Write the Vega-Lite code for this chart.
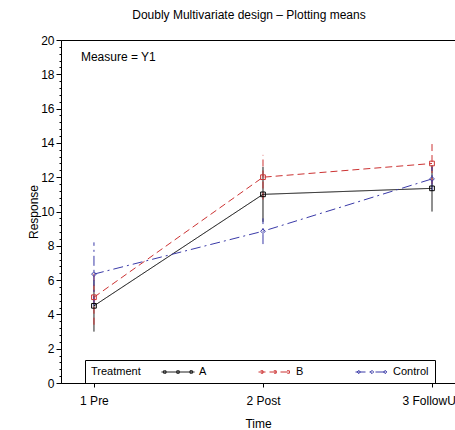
{
  "$schema": "https://vega.github.io/schema/vega-lite/v6.json",
  "width": 394,
  "height": 343,
  "autosize": {"type": "none"},
  "padding": {"left": 61, "top": 40, "right": 0, "bottom": 47},
  "background": "white",
  "title": {
    "text": "Doubly Multivariate design – Plotting means",
    "anchor": "middle",
    "frame": "group",
    "offset": 12,
    "dx": -9,
    "font": "Liberation Sans Narrow, Arial Narrow, Liberation Sans, sans-serif",
    "fontSize": 12,
    "fontWeight": "normal",
    "color": "black"
  },
  "config": {
    "view": {"stroke": "black", "strokeWidth": 1},
    "axis": {
      "grid": false,
      "domainColor": "black",
      "tickColor": "black",
      "labelColor": "black",
      "titleColor": "black",
      "labelFont": "Liberation Sans Narrow, Arial Narrow, Liberation Sans, sans-serif",
      "titleFont": "Liberation Sans Narrow, Arial Narrow, Liberation Sans, sans-serif",
      "labelFontSize": 12,
      "titleFontSize": 12,
      "titleFontWeight": "normal"
    },
    "legend": {
      "labelFont": "Liberation Sans Narrow, Arial Narrow, Liberation Sans, sans-serif",
      "titleFont": "Liberation Sans Narrow, Arial Narrow, Liberation Sans, sans-serif"
    }
  },
  "data": {
    "values": [
      {"Treatment": "A", "Time": 1, "Mean": 4.5, "Lower": 3.0, "Upper": 6.0},
      {"Treatment": "A", "Time": 2, "Mean": 11.0, "Lower": 9.4, "Upper": 12.6},
      {"Treatment": "A", "Time": 3, "Mean": 11.35, "Lower": 10.0, "Upper": 12.7},
      {"Treatment": "B", "Time": 1, "Mean": 5.0, "Lower": 3.4, "Upper": 6.6},
      {"Treatment": "B", "Time": 2, "Mean": 12.0, "Lower": 10.7, "Upper": 13.3},
      {"Treatment": "B", "Time": 3, "Mean": 12.8, "Lower": 11.6, "Upper": 14.0},
      {"Treatment": "Control", "Time": 1, "Mean": 6.35, "Lower": 4.5, "Upper": 8.2},
      {"Treatment": "Control", "Time": 2, "Mean": 8.85, "Lower": 8.1, "Upper": 9.6},
      {"Treatment": "Control", "Time": 3, "Mean": 11.9, "Lower": 11.2, "Upper": 12.6}
    ]
  },
  "resolve": {"axis": {"y": "independent"}},
  "layer": [
    {
      "mark": {"type": "rule", "strokeWidth": 1},
      "encoding": {
        "x": {
          "field": "Time", "type": "quantitative",
          "scale": {"domain": [0.805, 3.136], "nice": false, "zero": false},
          "axis": {
            "values": [1, 2, 3],
            "labelExpr": "datum.value == 1 ? '1 Pre' : datum.value == 2 ? '2 Post' : '3 FollowUp'",
            "title": "Time",
            "tickSize": 4,
            "labelPadding": 8,
            "titlePadding": 12
          }
        },
        "y": {
          "field": "Lower", "type": "quantitative",
          "scale": {"domain": [0, 20], "nice": false},
          "axis": {
            "values": [0, 2, 4, 6, 8, 10, 12, 14, 16, 18, 20],
            "title": "Response",
            "tickSize": 5,
            "labelPadding": 2,
            "titlePadding": 0
          }
        },
        "y2": {"field": "Upper"},
        "color": {
          "field": "Treatment", "type": "nominal",
          "scale": {"domain": ["A", "B", "Control"], "range": ["#000000", "#cc3333", "#3a3aa8"]},
          "legend": {
            "title": "Treatment",
            "orient": "none",
            "legendX": 24,
            "legendY": 320,
            "direction": "horizontal",
            "titleOrient": "left",
            "titleBaseline": "middle",
            "titleFontSize": 11,
            "titleFontWeight": "normal",
            "titleColor": "black",
            "labelFontSize": 11,
            "labelColor": "black",
            "strokeColor": "black",
            "padding": 6,
            "columnPadding": 49,
            "titlePadding": 20,
            "symbolSize": 121,
            "symbolOffset": 11,
            "labelOffset": 15,
            "symbolStrokeWidth": 1,
            "symbolType": "M-3,0H3M-2.62,-0.22h0.44v0.44h-0.44ZM-0.22,-0.22h0.44v0.44h-0.44ZM2.18,-0.22h0.44v0.44h-0.44Z",
            "encode": {
              "symbols": {
                "update": {
                  "shape": {"signal": "datum.value === 'Control' ? 'M-3,0H3M-2.4,-0.3L-2.1,0L-2.4,0.3L-2.7,0ZM0,-0.3L0.3,0L0,0.3L-0.3,0ZM2.4,-0.3L2.7,0L2.4,0.3L2.1,0Z' : 'M-3,0H3M-2.62,-0.22h0.44v0.44h-0.44ZM-0.22,-0.22h0.44v0.44h-0.44ZM2.18,-0.22h0.44v0.44h-0.44Z'"},
                  "fill": {"value": "transparent"}
                }
              }
            }
          }
        },
        "strokeDash": {
          "field": "Treatment", "type": "nominal",
          "scale": {"domain": ["A", "B", "Control"], "range": [[1, 0], [7, 4], [10, 4, 2, 4]]},
          "legend": null
        }
      }
    },
    {
      "mark": {"type": "line", "strokeWidth": 1},
      "encoding": {
        "x": {"field": "Time", "type": "quantitative"},
        "y": {"field": "Mean", "type": "quantitative", "axis": null},
        "color": {"field": "Treatment", "type": "nominal"},
        "strokeDash": {"field": "Treatment", "type": "nominal", "legend": null}
      }
    },
    {
      "mark": {"type": "point", "filled": false, "size": 22, "strokeWidth": 1, "opacity": 1},
      "encoding": {
        "x": {"field": "Time", "type": "quantitative"},
        "y": {
          "field": "Mean", "type": "quantitative",
          "axis": {
            "orient": "left",
            "values": [0.4, 0.8, 1.2, 1.6, 2.4, 2.8, 3.2, 3.6, 4.4, 4.8, 5.2, 5.6, 6.4, 6.8, 7.2, 7.6, 8.4, 8.8, 9.2, 9.6, 10.4, 10.8, 11.2, 11.6, 12.4, 12.8, 13.2, 13.6, 14.4, 14.8, 15.2, 15.6, 16.4, 16.8, 17.2, 17.6, 18.4, 18.8, 19.2, 19.6],
            "labels": false,
            "title": null,
            "domain": false,
            "tickSize": 2
          }
        },
        "color": {"field": "Treatment", "type": "nominal"},
        "shape": {
          "condition": {"test": "datum.Treatment === 'Control'", "value": "diamond"},
          "value": "square"
        }
      }
    },
    {
      "data": {"values": [{"label": "Measure = Y1", "lx": 0.923, "ly": 19.0}]},
      "mark": {
        "type": "text", "align": "left", "baseline": "middle",
        "font": "Liberation Sans Narrow, Arial Narrow, Liberation Sans, sans-serif",
        "fontSize": 12, "color": "black"
      },
      "encoding": {
        "x": {"field": "lx", "type": "quantitative"},
        "y": {"field": "ly", "type": "quantitative", "axis": null},
        "text": {"field": "label"}
      }
    }
  ]
}
